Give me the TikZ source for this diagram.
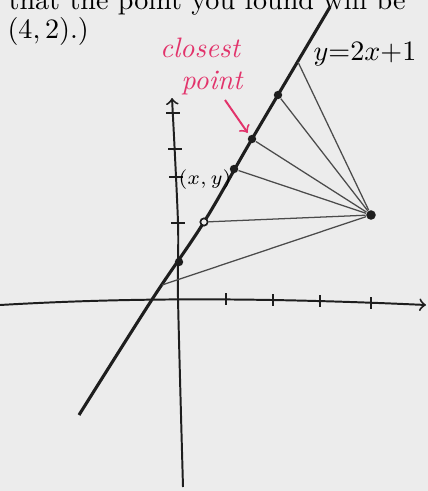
\documentclass[tikz,border=0pt]{standalone}
\begin{document}
\begin{tikzpicture}[x=0.0125cm, y=-0.0125cm,
    dot/.style={circle, fill=inkColour, inner sep=0pt, minimum size=3pt},
    hollowdot/.style={circle, draw=inkColour, fill=paperColour, line width=0.6pt, inner sep=0pt, minimum size=2.6pt},
    reach/.style={draw=inkColour!80, line width=0.45pt},
    scrawl/.style={font=\itshape, text=penColour, inner sep=0pt}]
    \definecolor{inkColour}{HTML}{1E1E1E}
    \definecolor{paperColour}{HTML}{ECECEC}
    \definecolor{penColour}{HTML}{E2336B}

    % Paper
    \fill[paperColour] (0,0) rectangle (428,491);
    \useasboundingbox (0,0) rectangle (428,491);

    % Text above the sketch
    \node[anchor=base west, inner sep=0pt] (lineOne) at (8,9) {that the point you found will be};
    \node[anchor=base west, inner sep=0pt] (lineTwo) at (7,38) {$(4,2)$.)};

    % Draw axes
    \draw[inkColour, line width=0.7pt, ->] (0,305) .. controls (120,298) and (250,297) .. (426,305);
    \draw[inkColour, line width=0.7pt, ->] plot[smooth] coordinates {(183,487) (178,298) (178,223) (172,98)};

    % Ticks on both axes
    \foreach \x/\y in {226/299, 273/300, 320/301, 371/303}
        \draw[inkColour, line width=0.6pt] (\x,{\y-6}) -- (\x,{\y+6});
    \foreach \x/\y in {173/113, 175/149, 176/177, 178/223}
        \draw[inkColour, line width=0.6pt] ({\x-7},\y) -- ({\x+7},\y);

    % Draw the line y = 2x + 1
    \draw[inkColour, line width=1.1pt] plot[smooth, tension=0.6] coordinates {(79,415) (153,298) (204,222) (252,139) (330,7)};
    \node[inner sep=0pt] (lineLabel) at (365,54) {$y{=}2x{+}1$};

    % Points on the line and the point (4,2)
    \coordinate (G) at (162,285);
    \node[dot] (A) at (179,262) {};
    \node[hollowdot] (B) at (204,222) {};
    \node[dot] (C) at (234,169) {};
    \node[dot] (D) at (252,139) {};
    \node[dot] (E) at (278,95) {};
    \coordinate (F) at (298,62);
    \node[dot, minimum size=3.4pt] (P) at (371,215) {};
    \node[font=\scriptsize, inner sep=0pt] (xyLabel) at (205,180) {$(x,y)$};

    % Distances from (4,2)
    \foreach \q in {G,B,C,D,E,F}
        \draw[reach] (P) -- (\q);

    % Closest point note
    \node[scrawl] (closestLabel) at (200,48) {closest};
    \node[scrawl] (pointLabel) at (212,83) {point};
    \coordinate (tail) at (225,100);
    \draw[penColour, line width=0.7pt, ->, shorten >=1pt] (tail) -- (D);

\end{tikzpicture}
\end{document}
